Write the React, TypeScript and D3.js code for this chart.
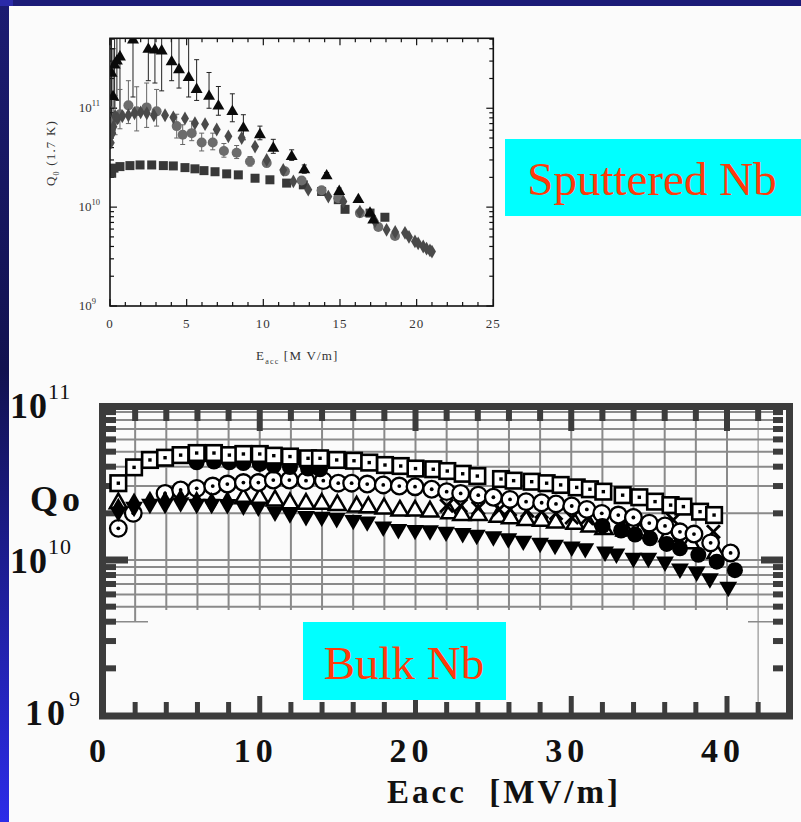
import React from "react";
import * as d3 from "d3";

// ================= Upper panel: sputtered Nb =================
const sputXTicks = [0, 5, 10, 15, 20, 25];
const sputYDecades = [9, 10, 11];

// black triangles (with error bars)
const sputTriE = [0.1, 0.2, 0.3, 0.45, 0.65, 1.5, 2.5, 2.93, 3.37, 4.02, 4.5, 5.13, 5.65, 6.46, 7.07, 7.98, 8.7, 9.78, 10.65, 11.85, 12.67, 14.13, 14.95, 16.2, 16.96, 17.17];
const sputTriQ = [2.26e11, 1.31e11, 2.74e11, 3.0e11, 3.3e11, 4.9e11, 3.94e11, 3.89e11, 3.8e11, 2.95e11, 2.45e11, 2.04e11, 1.55e11, 1.32e11, 1.05e11, 9.25e10, 6.3e10, 5.4e10, 3.94e10, 3.24e10, 2.38e10, 2.07e10, 1.44e10, 1.19e10, 8.7e9, 7.4e9];
const sputTriHi = [6e11, 4e11, 6e11, 6e11, 6e11, 6e11, 6e11, 6e11, 6e11, 6e11, 5.6e11, 6e11, 3.1e11, 2.3e11, 1.66e11, 1.4e11, 8.6e10, 6.6e10, 4.85e10, 3.8e10, 2.67e10, 2.24e10, 1.56e10, 1.25e10, 9.1e9, 7.7e9];
const sputTriLo = [8e10, 6e10, 1e11, 1.2e11, 9e10, 1.3e11, 1.9e11, 1.8e11, 1.5e11, 1.9e11, 1.6e11, 1.3e11, 1.2e11, 1.0e11, 8.5e10, 7.3e10, 4.8e10, 4.8e10, 3.5e10, 2.97e10, 2.2e10, 1.95e10, 1.34e10, 1.13e10, 8.3e9, 7.1e9];

// dark-grey diamonds
const sputDiaE = [0.05, 0.15, 0.22, 0.33, 0.5, 0.8, 1.2, 1.6, 2.0, 2.4, 2.86, 3.59, 4.13, 4.89, 5.54, 6.2, 6.96, 7.72, 8.59, 9.46, 10.22, 11.3, 11.96, 12.93, 14.24, 15.22, 16.3, 17.28, 18.04, 18.6, 19.24, 19.5, 19.89, 20.1, 20.43, 20.65, 20.87, 21.0];
const sputDiaQ = [4.47e10, 5.6e10, 6.5e10, 8.3e10, 7.9e10, 8.3e10, 8.5e10, 8.9e10, 9.1e10, 8.9e10, 8.5e10, 8.5e10, 8.1e10, 7.9e10, 7.05e10, 6.9e10, 6.1e10, 5.2e10, 5.0e10, 4.1e10, 3.0e10, 2.38e10, 1.82e10, 1.5e10, 1.28e10, 1.14e10, 9.0e9, 7.2e9, 5.9e9, 5.6e9, 5.5e9, 5.0e9, 4.5e9, 4.3e9, 4.0e9, 3.8e9, 3.65e9, 3.55e9];

// grey circles (with error bars)
const sputCircE = [0.0, 0.33, 0.65, 1.2, 1.74, 2.39, 3.04, 4.35, 4.74, 5.33, 5.98, 6.7, 7.43, 8.26, 9.13, 10.22, 11.41, 12.5, 13.8, 14.89, 16.3, 17.5, 18.59];
const sputCircQ = [6.5e10, 7.6e10, 8.7e10, 1.07e11, 9.3e10, 1.02e11, 9.3e10, 6.6e10, 5.4e10, 5.6e10, 4.5e10, 4.5e10, 3.7e10, 3.55e10, 2.9e10, 2.8e10, 2.3e10, 1.86e10, 1.48e10, 1.23e10, 8.7e9, 6.3e9, 5.1e9];
const sputCircHi = [1.03e11, 1.35e11, 1.55e11, 1.9e11, 1.65e11, 1.8e11, 1.55e11, 8.7e10, 6.8e10, 7.4e10, 5.6e10, 5.6e10, 4.4e10, 4.2e10, 3.25e10, 3.1e10, 2.45e10, 1.95e10, 1.55e10, null, null, null, null];
const sputCircLo = [4.6e10, 5.4e10, 6.2e10, 7.0e10, 5.9e10, 6.4e10, 6.6e10, 5.0e10, 4.3e10, 4.7e10, 3.7e10, 3.8e10, 3.2e10, 3.1e10, 2.6e10, 2.55e10, 2.15e10, 1.78e10, 1.42e10, null, null, null, null];

// dark squares
const sputSqE = [0.11, 0.26, 0.65, 1.3, 1.96, 2.72, 3.48, 4.13, 4.89, 5.54, 6.13, 6.85, 7.61, 8.37, 9.46, 10.43, 11.52, 12.61, 13.8, 14.89, 15.33, 16.96, 17.93];
const sputSqQ = [2.2e10, 2.48e10, 2.57e10, 2.63e10, 2.67e10, 2.67e10, 2.63e10, 2.61e10, 2.51e10, 2.44e10, 2.34e10, 2.28e10, 2.17e10, 2.12e10, 1.96e10, 1.89e10, 1.75e10, 1.68e10, 1.44e10, 1.19e10, 9.5e9, 8.7e9, 7.9e9];

// ================= Lower panel: bulk Nb =================
const bulkXTicks = [0, 10, 20, 30, 40];
const bulkYDecades = [9, 10, 11];

const bulkSqE = [0.92, 1.93, 2.95, 3.92, 4.92, 5.95, 7.06, 8.05, 8.95, 10.0, 10.9, 11.94, 13.1, 13.87, 14.94, 16.05, 17.03, 18.04, 19.05, 20.0, 21.14, 22.04, 23.03, 23.97, 25.49, 26.3, 27.46, 28.42, 29.32, 30.35, 31.2, 32.06, 33.3, 34.37, 35.38, 36.38, 37.2, 38.27, 39.17];
const bulkSqQ = [3.13e10, 3.96e10, 4.42e10, 4.57e10, 4.75e10, 4.9e10, 4.9e10, 4.75e10, 4.83e10, 4.83e10, 4.71e10, 4.65e10, 4.53e10, 4.53e10, 4.42e10, 4.37e10, 4.25e10, 4.1e10, 4.04e10, 3.89e10, 3.85e10, 3.75e10, 3.6e10, 3.48e10, 3.33e10, 3.25e10, 3.2e10, 3.13e10, 3.05e10, 2.94e10, 2.86e10, 2.76e10, 2.62e10, 2.54e10, 2.38e10, 2.26e10, 2.21e10, 2.05e10, 1.95e10];

const bulkCircE = [0.92, 1.88, 3.92, 4.92, 5.95, 6.98, 7.92, 8.95, 9.91, 10.87, 11.9, 12.97, 14.08, 15.04, 15.9, 16.9, 17.93, 18.96, 19.97, 21.04, 22.0, 22.9, 24.03, 25.0, 26.07, 27.1, 28.1, 29.02, 30.03, 31.0, 31.96, 33.02, 33.99, 35.01, 36.02, 36.98, 37.88, 38.95, 40.23];
const bulkCircQ = [1.6e10, 2.0e10, 2.69e10, 2.83e10, 2.9e10, 3.0e10, 3.09e10, 3.16e10, 3.16e10, 3.28e10, 3.28e10, 3.25e10, 3.25e10, 3.13e10, 3.13e10, 3.09e10, 3.05e10, 3.0e10, 2.97e10, 2.86e10, 2.76e10, 2.69e10, 2.62e10, 2.54e10, 2.46e10, 2.38e10, 2.34e10, 2.3e10, 2.23e10, 2.12e10, 2.0e10, 1.95e10, 1.88e10, 1.73e10, 1.66e10, 1.52e10, 1.47e10, 1.29e10, 1.11e10];

const bulkTriE = [0.92, 8.95, 10.0, 10.98, 11.94, 12.97, 13.98, 14.98, 16.22, 16.97, 17.98, 19.0, 19.97, 20.93, 22.2, 22.97, 24.03, 25.3, 26.1, 27.1, 28.1, 29.0, 30.24, 31.2, 32.1, 33.45, 34.4, 36.2, 37.67, 39.3];
const bulkTriQ = [2.32e10, 2.5e10, 2.5e10, 2.42e10, 2.32e10, 2.3e10, 2.3e10, 2.26e10, 2.21e10, 2.19e10, 2.15e10, 2.08e10, 2.08e10, 2.05e10, 2.0e10, 1.95e10, 1.95e10, 1.9e10, 1.86e10, 1.81e10, 1.79e10, 1.74e10, 1.71e10, 1.64e10, 1.58e10, 1.55e10, 1.49e10, 1.42e10, 1.28e10, 1.11e10];

const bulkInvE = [0.92, 1.93, 2.95, 3.92, 4.92, 5.95, 6.91, 7.92, 8.95, 9.91, 10.98, 11.94, 12.97, 13.98, 14.94, 16.0, 16.9, 17.93, 18.9, 19.97, 20.93, 21.96, 23.03, 23.93, 25.0, 25.96, 26.92, 28.0, 28.96, 30.03, 30.9, 32.17, 32.9, 33.99, 34.95, 36.02, 36.98, 38.05, 38.9, 40.08];
const bulkInvQ = [2.05e10, 2.2e10, 2.3e10, 2.3e10, 2.35e10, 2.3e10, 2.3e10, 2.29e10, 2.24e10, 2.21e10, 2.05e10, 2.0e10, 1.92e10, 1.9e10, 1.86e10, 1.81e10, 1.77e10, 1.64e10, 1.58e10, 1.56e10, 1.55e10, 1.52e10, 1.49e10, 1.45e10, 1.42e10, 1.38e10, 1.33e10, 1.29e10, 1.25e10, 1.22e10, 1.19e10, 1.13e10, 1.1e10, 1.03e10, 1.03e10, 9.75e9, 8.8e9, 8.4e9, 7.6e9, 6.7e9];

const bulkDiaE = [0.92, 1.93, 2.95, 3.92, 4.92, 5.95, 6.91, 7.92];
const bulkDiaQ = [2.15e10, 2.32e10, 2.38e10, 2.38e10, 2.46e10, 2.38e10, 2.34e10, 2.38e10];

const bulkDotE = [5.95, 7.06, 8.05, 8.95, 10.0, 10.9, 11.94, 13.1, 13.87, 32.0, 33.2, 34.1, 35.06, 36.13, 36.98, 38.16, 39.34, 40.51];
const bulkDotQ = [4.27e10, 4.32e10, 4.27e10, 4.22e10, 4.17e10, 4.07e10, 3.98e10, 3.89e10, 3.85e10, 1.66e10, 1.55e10, 1.46e10, 1.38e10, 1.27e10, 1.19e10, 1.08e10, 9.75e9, 8.6e9];

const bulkXE = [22.0, 22.9, 24.03, 25.38, 26.07, 27.18, 28.1, 29.02, 30.03, 31.0, 32.06, 33.24, 36.55, 39.13];
const bulkXQ = [2.24e10, 2.24e10, 2.16e10, 2.12e10, 2.12e10, 2.08e10, 2.05e10, 2.0e10, 1.88e10, 1.86e10, 1.77e10, 1.68e10, 1.81e10, 1.52e10];

const FONT = "'Liberation Serif','Times New Roman',Times,serif";

export default function App() {
  // ---- upper scales ----
  const sx = d3.scaleLinear().domain([0, 25]).range([110, 493.3]);
  const sy = d3.scaleLog().domain([1e9, 5.1e11]).range([306, 38.3]);
  const sL = 110, sR = 493.3, sT = 38.3, sB = 306;

  // ---- lower scales ----
  const bx = d3.scaleLinear().domain([0, 40]).range([104, 727]);
  const by = d3.scaleLog().domain([1e9, 1e11]).range([715, 405]);
  const bL = 106, bR = 786, bT = 410, bB = 713;

  const triSmall = d3.symbol().type(d3.symbolTriangle).size(62)()!;
  const diaSmall = d3.symbol().type(d3.symbolDiamond).size(55)()!;
  const triBig = d3.symbol().type(d3.symbolTriangle).size(125)()!;
  const invBig = d3.symbol().type(d3.symbolTriangle).size(138)()!;
  const diaBig = d3.symbol().type(d3.symbolDiamond).size(135)()!;

  // upper ticks
  const sMinorX = d3.range(0, 26, 1);
  const sMinorY: number[] = [];
  for (const e of [9, 10, 11]) for (let k = 1; k <= 9; k++) { const v = k * Math.pow(10, e); if (v <= 5.1e11) sMinorY.push(v); }

  // lower ticks / grid
  const bGridX = d3.range(2, 44, 2);
  const bMinorY: number[] = [];
  for (const e of [9, 10]) for (let k = 2; k <= 9; k++) bMinorY.push(k * Math.pow(10, e));
  const bGridY = [...d3.range(5, 10).map((k) => k * 1e9), 1e10, ...d3.range(2, 10).map((k) => k * 1e10)];

  return (
    <div style={{ position: "absolute", left: 0, top: 0 }}>
      <svg width={801} height={822} style={{ display: "block" }}>
        <defs>
          <linearGradient id="leftBar" x1="0" y1="0" x2="0" y2="1">
            <stop offset="0" stopColor="#1c1c72" />
            <stop offset="0.45" stopColor="#121250" />
            <stop offset="1" stopColor="#2c2ce8" />
          </linearGradient>
          <clipPath id="sclip"><rect x={sL} y={sT} width={sR - sL} height={sB - sT} /></clipPath>
        </defs>
        <rect x={0} y={0} width={801} height={822} fill="#fbfbfb" />
        <rect x={0} y={0} width={9} height={822} fill="url(#leftBar)" />
        <rect x={0} y={0} width={801} height={6} fill="#1b1b78" />
        <rect x={0} y={0} width={13} height={6} fill="#2a2aa8" />

        {/* ================= upper panel ================= */}
        <g>
          {sMinorX.map((v) => {
            const len = v % 5 === 0 ? 7 : 4;
            return (
              <g key={"sx" + v} stroke="#111" strokeWidth={1.2}>
                <line x1={sx(v)} x2={sx(v)} y1={sB} y2={sB - len} />
                <line x1={sx(v)} x2={sx(v)} y1={sT} y2={sT + len} />
              </g>
            );
          })}
          {sMinorY.map((v, i) => {
            const major = Math.abs(Math.log10(v) - Math.round(Math.log10(v))) < 1e-6;
            const len = major ? 7 : 4;
            return (
              <g key={"sy" + i} stroke="#111" strokeWidth={1.2}>
                <line x1={sL} x2={sL + len} y1={sy(v)} y2={sy(v)} />
                <line x1={sR} x2={sR - len} y1={sy(v)} y2={sy(v)} />
              </g>
            );
          })}

          <g clipPath="url(#sclip)">
            {sputTriE.map((e, i) => (
              <g key={"teb" + i} stroke="#222" strokeWidth={1}>
                <line x1={sx(e)} x2={sx(e)} y1={sy(sputTriHi[i])} y2={sy(sputTriLo[i])} />
                <line x1={sx(e) - 2.5} x2={sx(e) + 2.5} y1={sy(sputTriHi[i])} y2={sy(sputTriHi[i])} />
                <line x1={sx(e) - 2.5} x2={sx(e) + 2.5} y1={sy(sputTriLo[i])} y2={sy(sputTriLo[i])} />
              </g>
            ))}
            {sputCircE.map((e, i) =>
              sputCircHi[i] == null ? null : (
                <g key={"ceb" + i} stroke="#666" strokeWidth={1}>
                  <line x1={sx(e)} x2={sx(e)} y1={sy(sputCircHi[i] as number)} y2={sy(sputCircLo[i] as number)} />
                  <line x1={sx(e) - 2.5} x2={sx(e) + 2.5} y1={sy(sputCircHi[i] as number)} y2={sy(sputCircHi[i] as number)} />
                  <line x1={sx(e) - 2.5} x2={sx(e) + 2.5} y1={sy(sputCircLo[i] as number)} y2={sy(sputCircLo[i] as number)} />
                </g>
              )
            )}
            {sputSqE.map((e, i) => (
              <rect key={"ss" + i} x={sx(e) - 4.5} y={sy(sputSqQ[i]) - 4.5} width={9} height={9} fill="#383838" />
            ))}
            {sputCircE.map((e, i) => (
              <circle key={"sc" + i} cx={sx(e)} cy={sy(sputCircQ[i])} r={5} fill="#6c6c6c" />
            ))}
            {sputDiaE.map((e, i) => (
              <path key={"sd" + i} d={diaSmall} transform={`translate(${sx(e)},${sy(sputDiaQ[i])})`} fill="#4a4a4a" />
            ))}
            {sputTriE.map((e, i) => (
              <path key={"st" + i} d={triSmall} transform={`translate(${sx(e)},${sy(sputTriQ[i])})`} fill="#0a0a0a" />
            ))}
          </g>
          <rect x={sL} y={sT} width={sR - sL} height={sB - sT} fill="none" stroke="#111" strokeWidth={1.6} />

          {sputXTicks.map((v) => (
            <text key={"sxl" + v} x={sx(v)} y={328} textAnchor="middle" fontFamily={FONT} fontSize={13} fill="#333" letterSpacing={1}>
              {v}
            </text>
          ))}
          {sputYDecades.map((e) => (
            <text key={"syl" + e} x={e === 9 ? 96 : 100} y={sy(Math.pow(10, e)) + 4} textAnchor="end" fontFamily={FONT} fontSize={13} fill="#333">
              10<tspan dy={-6} fontSize={8.5}>{e}</tspan>
            </text>
          ))}
          <text x={256} y={360} fontFamily={FONT} fontSize={13} fill="#333" letterSpacing={1.2}>
            E<tspan dy={4} fontSize={8}>acc</tspan><tspan dy={-4}> [M V/m]</tspan>
          </text>
          <text transform="translate(55,153) rotate(-90)" textAnchor="middle" fontFamily={FONT} fontSize={13} fill="#333" letterSpacing={1.2}>
            Q<tspan dy={4} fontSize={8}>0</tspan><tspan dy={-4}> (1.7 K)</tspan>
          </text>
        </g>

        <rect x={505} y={139} width={296} height={77} fill="#00ffff" />
        <text x={652} y={195} textAnchor="middle" fontFamily={FONT} fontSize={47} fill="#ff3a0a">
          Sputtered Nb
        </text>

        {/* ================= lower panel ================= */}
        <g>
          {bGridX.map((v) => (
            <line key={"gx" + v} x1={bx(v)} x2={bx(v)} y1={bT} y2={v === 42 ? bB : v === 2 ? 621 : 610} stroke={v === 42 ? "#a8a8a8" : "#8a8a8a"} strokeWidth={v === 42 ? 1.5 : 2} />
          ))}
          {bGridY.map((q, i) => (
            <line key={"gy" + i} x1={bL} x2={bR - 3} y1={by(q)} y2={by(q)} stroke="#8a8a8a" strokeWidth={2} />
          ))}
          <line x1={bL} x2={148} y1={by(4e9)} y2={by(4e9)} stroke="#8a8a8a" strokeWidth={1.5} />
          <line x1={748} x2={bR - 3} y1={by(4e9)} y2={by(4e9)} stroke="#8a8a8a" strokeWidth={1.5} />

          {bGridX.map((v) => (
            <rect key={"tt" + v} x={bx(v) - 3} y={bT} width={6} height={v % 10 === 0 ? 21 : 11} fill="#3c3c3c" />
          ))}
          {bGridX.map((v) => (
            <rect key={"bt" + v} x={bx(v) - 2.5} y={bB - (v % 10 === 0 ? 17 : 11)} width={5} height={v % 10 === 0 ? 17 : 11} fill="#3c3c3c" />
          ))}
          {bMinorY.map((q, i) => (
            <g key={"lt" + i} fill="#3c3c3c">
              <rect x={bL} y={by(q) - 3} width={10} height={6} />
              <rect x={bR - 13} y={by(q) - 3} width={10} height={6} />
            </g>
          ))}
          <rect x={bL} y={by(1e10) - 3.5} width={22} height={7} fill="#3c3c3c" />
          <rect x={bR - 25} y={by(1e10) - 3.5} width={22} height={7} fill="#3c3c3c" />

          {bulkTriE.map((e, i) => (
            <path key={"btr" + i} d={triBig} transform={`translate(${bx(e)},${by(bulkTriQ[i])})`} fill="#fff" stroke="#000" strokeWidth={2.5} />
          ))}
          {bulkXE.map((e, i) => (
            <g key={"bx" + i} stroke="#000" strokeWidth={2.8} transform={`translate(${bx(e)},${by(bulkXQ[i])})`}>
              <line x1={-6.5} y1={-6.5} x2={6.5} y2={6.5} />
              <line x1={-6.5} y1={6.5} x2={6.5} y2={-6.5} />
            </g>
          ))}
          {bulkCircE.map((e, i) => (
            <g key={"bc" + i} transform={`translate(${bx(e)},${by(bulkCircQ[i])})`}>
              <circle r={8.3} fill="#fff" stroke="#000" strokeWidth={2.3} />
              <circle r={1.9} fill="#000" />
            </g>
          ))}
          {bulkInvE.map((e, i) => (
            <path key={"bi" + i} d={invBig} transform={`translate(${bx(e)},${by(bulkInvQ[i])}) rotate(180)`} fill="#000" />
          ))}
          {bulkDiaE.map((e, i) => (
            <path key={"bd" + i} d={diaBig} transform={`translate(${bx(e)},${by(bulkDiaQ[i])})`} fill="#000" />
          ))}
          {bulkDotE.map((e, i) => (
            <circle key={"bo" + i} cx={bx(e)} cy={by(bulkDotQ[i])} r={8} fill="#000" />
          ))}
          {bulkSqE.map((e, i) => (
            <g key={"bs" + i} transform={`translate(${bx(e)},${by(bulkSqQ[i])})`}>
              <rect x={-7.8} y={-7.8} width={15.6} height={15.6} fill="#fff" stroke="#000" strokeWidth={2.6} />
              <rect x={-1.7} y={-1.7} width={3.4} height={3.4} fill="#000" />
            </g>
          ))}

          <rect x={102.5} y={406.5} width={687} height={309.5} fill="none" stroke="#3c3c3c" strokeWidth={7} />

          {bulkYDecades.map((e) => {
            const base = e === 11 ? 418 : e === 10 ? 573 : 725;
            return (
              <text key={"byl" + e} x={e === 9 ? 25 : 10} y={base} fontFamily={FONT} fontSize={36} fontWeight="bold" fill="#111" letterSpacing={e === 9 ? 4 : 1}>
                10<tspan dy={-19} fontSize={22} fontWeight="normal" letterSpacing={1}>{e}</tspan>
              </text>
            );
          })}
          <text x={30} y={511} fontFamily={FONT} fontSize={36} fontWeight="bold" fill="#111" letterSpacing={4}>Qo</text>
          {bulkXTicks.map((v) => (
            <text key={"bxl" + v} x={bx(v) - 4} y={762} textAnchor="middle" fontFamily={FONT} fontSize={34} fontWeight="bold" fill="#111" letterSpacing={5}>
              {v}
            </text>
          ))}
          <text x={387} y={803} fontFamily={FONT} fontSize={33} fontWeight="bold" fill="#111" letterSpacing={3} style={{ whiteSpace: "pre" }}>
            {"Eacc  [MV/m]"}
          </text>
        </g>

        <rect x={303} y={622} width={203} height={78} fill="#00ffff" />
        <text x={404} y={679} textAnchor="middle" fontFamily={FONT} fontSize={47} fill="#ff3a0a">
          Bulk Nb
        </text>
      </svg>
    </div>
  );
}
